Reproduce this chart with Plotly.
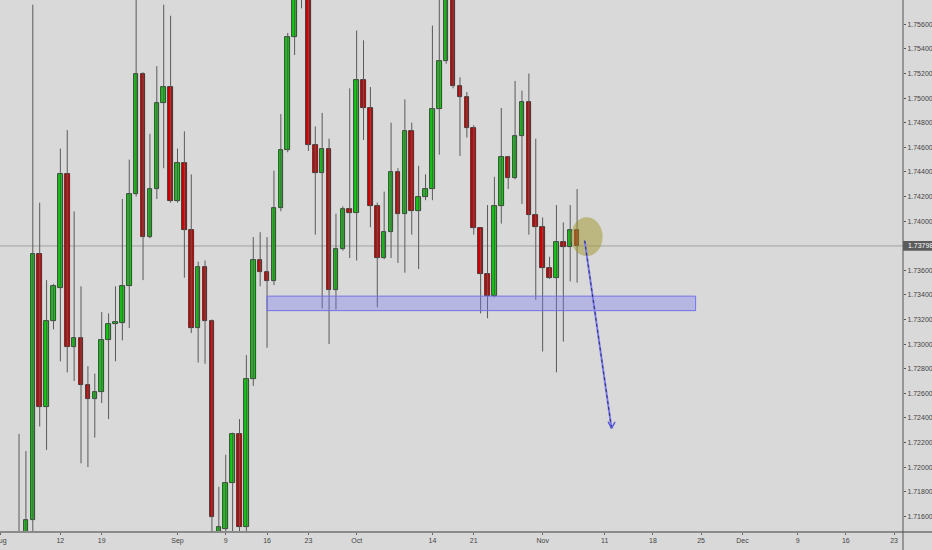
import plotly.graph_objects as go

# ---- data (daily candles) ----
opens = [1.7143, 1.7140, 1.7157, 1.7373, 1.7249, 1.7319, 1.7346, 1.7438, 1.7298, 1.7305,
         1.7267, 1.7255, 1.7261, 1.7303, 1.7316, 1.7317, 1.7347, 1.7422, 1.7520, 1.7387,
         1.7426, 1.7496, 1.7509, 1.7416, 1.7447, 1.7393, 1.7313, 1.7363, 1.7319, 1.7147,
         1.7150, 1.7187, 1.7227, 1.7151, 1.7272, 1.7368, 1.7359, 1.7351, 1.7411, 1.7458,
         1.7550, 1.7590, 1.7600, 1.7462, 1.7439, 1.7459, 1.7344, 1.7377, 1.7410, 1.7407,
         1.7515, 1.7492, 1.7412, 1.7370, 1.7391, 1.7440, 1.7406, 1.7473, 1.7408, 1.7420,
         1.7426, 1.7491, 1.7530, 1.7600, 1.7510, 1.7501, 1.7476, 1.7394, 1.7357, 1.7339,
         1.7412, 1.7452, 1.7435, 1.7469, 1.7497, 1.7405, 1.7395, 1.7362, 1.7354, 1.7383,
         1.7379, 1.7393]
highs = [1.7227, 1.7213, 1.7576, 1.7415, 1.7352, 1.7349, 1.7459, 1.7474, 1.7408, 1.7347,
         1.7282, 1.7276, 1.7326, 1.7325, 1.7347, 1.7418, 1.7450, 1.7585, 1.7521, 1.7471,
         1.7526, 1.7576, 1.7567, 1.7459, 1.7473, 1.7438, 1.7367, 1.7368, 1.7320, 1.7184,
         1.7210, 1.7228, 1.7239, 1.7291, 1.7387, 1.7391, 1.7387, 1.7441, 1.7487, 1.7553,
         1.7600, 1.7620, 1.7610, 1.7477, 1.7488, 1.7467, 1.7406, 1.7412, 1.7508, 1.7555,
         1.7547, 1.7509, 1.7415, 1.7424, 1.7480, 1.7443, 1.7499, 1.7480, 1.7445, 1.7438,
         1.7559, 1.7590, 1.7610, 1.7615, 1.7517, 1.7505, 1.7478, 1.7394, 1.7413, 1.7436,
         1.7492, 1.7453, 1.7514, 1.7506, 1.7520, 1.7467, 1.7403, 1.7371, 1.7413, 1.7399,
         1.7413, 1.7426]
lows = [1.7130, 1.7135, 1.7145, 1.7233, 1.7214, 1.7312, 1.7286, 1.7277, 1.7270, 1.7203,
        1.7200, 1.7224, 1.7252, 1.7239, 1.7286, 1.7303, 1.7313, 1.7420, 1.7352, 1.7386,
        1.7418, 1.7443, 1.7415, 1.7415, 1.7354, 1.7309, 1.7285, 1.7284, 1.7146, 1.7140,
        1.7145, 1.7146, 1.7146, 1.7148, 1.7266, 1.7347, 1.7297, 1.7348, 1.7408, 1.7456,
        1.7535, 1.7573, 1.7457, 1.7389, 1.7329, 1.7300, 1.7328, 1.7376, 1.7370, 1.7368,
        1.7466, 1.7395, 1.7330, 1.7369, 1.7370, 1.7366, 1.7358, 1.7389, 1.7361, 1.7417,
        1.7417, 1.7454, 1.7528, 1.7508, 1.7453, 1.7468, 1.7389, 1.7325, 1.7321, 1.7338,
        1.7398, 1.7426, 1.7434, 1.7414, 1.7389, 1.7336, 1.7294, 1.7353, 1.7277, 1.7302,
        1.7351, 1.7350]
closes = [1.7138, 1.7157, 1.7373, 1.7249, 1.7319, 1.7347, 1.7438, 1.7298, 1.7305, 1.7267,
          1.7255, 1.7261, 1.7303, 1.7316, 1.7318, 1.7347, 1.7422, 1.7520, 1.7387, 1.7426,
          1.7496, 1.7509, 1.7416, 1.7447, 1.7393, 1.7313, 1.7363, 1.7319, 1.7159, 1.7151,
          1.7187, 1.7227, 1.7151, 1.7272, 1.7368, 1.7359, 1.7351, 1.7411, 1.7458, 1.7550,
          1.7588, 1.7605, 1.7462, 1.7439, 1.7459, 1.7344, 1.7377, 1.7410, 1.7407, 1.7515,
          1.7492, 1.7412, 1.7370, 1.7391, 1.7440, 1.7406, 1.7473, 1.7408, 1.7420, 1.7426,
          1.7491, 1.7530, 1.7595, 1.7510, 1.7501, 1.7476, 1.7394, 1.7357, 1.7339, 1.7412,
          1.7452, 1.7435, 1.7469, 1.7497, 1.7405, 1.7395, 1.7362, 1.7354, 1.7383, 1.7379,
          1.7393, 1.7380]

x_tick_pos = [-2.7, 6, 12, 23, 30, 36, 42, 49, 60, 66, 76, 85, 92, 99, 105, 113, 120, 127]
x_tick_labels = ["Aug", "12", "19", "Sep", "9", "16", "23", "Oct", "14", "21", "Nov",
                 "11", "18", "25", "Dec", "9", "16", "23"]
y_ticks = [1.716, 1.718, 1.720, 1.722, 1.724, 1.726, 1.728, 1.730, 1.732, 1.734, 1.736,
           1.738, 1.740, 1.742, 1.744, 1.746, 1.748, 1.750, 1.752, 1.754, 1.756]

last_price = 1.73798
zone_low, zone_high = 1.73272, 1.73390
zone_start, zone_end = 36, 98.2

# ---- styles ----
BG = "#d9d9d9"
UP = "#13c813"
DOWN = "#d10000"
OUTLINE = "#262626"
WICK = "#5a5a5a"
FONT = "Liberation Sans Narrow, Liberation Sans"

idx = list(range(len(opens)))

# wicks
wx, wy = [], []
for i, h, l in zip(idx, highs, lows):
    wx += [i, i, None]
    wy += [l, h, None]

bases = [min(o, c) for o, c in zip(opens, closes)]
heights = [max(abs(c - o), 0.00004) for o, c in zip(opens, closes)]
colors = [UP if c >= o else DOWN for o, c in zip(opens, closes)]

fig = go.Figure()
fig.add_trace(go.Scatter(x=wx, y=wy, mode="lines", line=dict(color=WICK, width=1),
                         hoverinfo="skip", showlegend=False))
fig.add_trace(go.Bar(x=idx, y=heights, base=bases, width=0.66,
                     marker=dict(color=colors, line=dict(color=OUTLINE, width=0.8)),
                     showlegend=False))

shapes = []
# last price line
shapes.append(dict(type="line", xref="paper", x0=0, x1=1, yref="y", y0=last_price, y1=last_price,
                   line=dict(color="#a3a3a3", width=1), layer="below"))
# support zone
shapes.append(dict(type="rect", xref="x", x0=zone_start, x1=zone_end, yref="y",
                   y0=zone_low, y1=zone_high, fillcolor="rgba(120,120,245,0.36)",
                   line=dict(color="rgba(110,110,235,0.95)", width=1), layer="above"))
# highlight ellipse
shapes.append(dict(type="circle", xref="x", x0=80.1, x1=84.7, yref="y", y0=1.73714, y1=1.74032,
                   fillcolor="rgba(160,150,40,0.5)", line=dict(width=0), layer="above"))
# projection arrow
ax0, ay0, ax1, ay1 = 82.1, 1.73841, 86.0, 1.72315
shapes.append(dict(type="line", xref="x", yref="y", x0=ax0, y0=ay0, x1=ax1, y1=ay1,
                   line=dict(color="#7b7bea", width=2)))
shapes.append(dict(type="line", xref="x", yref="y", x0=ax0, y0=ay0, x1=ax1, y1=ay1,
                   line=dict(color="#2d2d6a", width=1, dash="dot")))
shapes.append(dict(type="line", xref="x", yref="y", x0=ax1, y0=ay1, x1=ax1 - 0.5, y1=ay1 + 0.00055,
                   line=dict(color="#5a5ad8", width=1.5)))
shapes.append(dict(type="line", xref="x", yref="y", x0=ax1, y0=ay1, x1=ax1 + 0.5, y1=ay1 + 0.00052,
                   line=dict(color="#5a5ad8", width=1.5)))
# axis frame lines extending into the margins
shapes.append(dict(type="line", xref="paper", yref="paper", x0=0, x1=1.05, y0=0, y1=0,
                   line=dict(color="#8a8a8a", width=2)))
shapes.append(dict(type="line", xref="paper", yref="paper", x0=1, x1=1, y0=-0.05, y1=1,
                   line=dict(color="#555555", width=1)))
# last price tag
shapes.append(dict(type="rect", xref="paper", x0=1.0, x1=1.04, yref="y",
                   y0=last_price - 0.00040, y1=last_price + 0.00040,
                   fillcolor="#5c5c5c", line=dict(width=0)))

fig.update_layout(
    width=932, height=550,
    margin=dict(l=0, r=29, t=0, b=18, pad=0, autoexpand=False),
    paper_bgcolor=BG, plot_bgcolor=BG,
    bargap=0, showlegend=False,
    font=dict(family=FONT, size=7, color="#444444"),
    shapes=shapes,
    annotations=[dict(xref="paper", x=1.003, yref="y", y=last_price, text="%.5f" % last_price,
                      showarrow=False, xanchor="left", yanchor="middle",
                      font=dict(family=FONT, size=7, color="#ffffff"))],
)
fig.update_xaxes(range=[-2.76, 128.3], tickmode="array", tickvals=x_tick_pos,
                 ticktext=x_tick_labels, ticks="outside", ticklen=2, tickcolor="#666",
                 showgrid=False, zeroline=False, showline=False, automargin=False,
                 ticklabeloverflow="allow", tickfont=dict(family=FONT, size=7, color="#444"),
                 fixedrange=True)
fig.update_yaxes(range=[1.71472, 1.75798], side="right", tickmode="array",
                 tickvals=y_ticks, ticktext=["%.5f" % v for v in y_ticks],
                 ticks="outside", ticklen=2, tickcolor="#555", showgrid=False,
                 zeroline=False, showline=False, automargin=False,
                 tickfont=dict(family=FONT, size=7, color="#444"), fixedrange=True)

fig.write_html("out.html", config={"displayModeBar": False},
               post_script="document.body.style.margin='0';document.body.style.padding='0';"
                           "document.body.style.overflow='hidden';"
                           "document.body.style.background='" + BG + "';")
